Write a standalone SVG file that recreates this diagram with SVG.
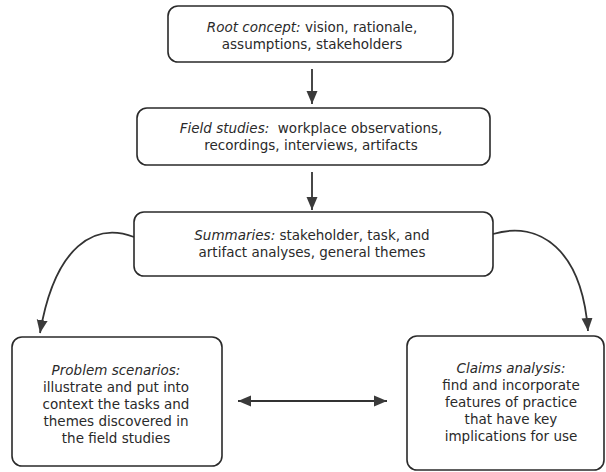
<svg xmlns="http://www.w3.org/2000/svg" width="606" height="472" viewBox="0 0 606 472">
<style>
.box{fill:#fff;stroke:#2a2a2a;stroke-width:1.6}
.t{font-family:"DejaVu Sans","Liberation Sans",sans-serif;font-size:13.5px;fill:#2a2a2a;text-anchor:middle}
.i{font-style:italic}
.c{fill:none;stroke:#333;stroke-width:1.8}
</style>
<defs>
<marker id="ah" viewBox="0 0 13 14" refX="13" refY="7" markerWidth="13" markerHeight="14" markerUnits="userSpaceOnUse" orient="auto-start-reverse">
<path d="M0,1.5 L13,7 L0,12.5 Z" fill="#3a3a3a"/>
</marker>
</defs>
<rect width="606" height="472" fill="#fff"/>
<g id="connectors">
<line class="c" x1="312" y1="69" x2="312" y2="104" marker-end="url(#ah)"/>
<line class="c" x1="312" y1="172" x2="312" y2="210" marker-end="url(#ah)"/>
<path class="c" d="M134,237 C95,222 55,245 40,333" marker-end="url(#ah)"/>
<path class="c" d="M493,234 C540,220 582,250 588,331" marker-end="url(#ah)"/>
<line class="c" x1="238" y1="401" x2="387" y2="401" marker-start="url(#ah)" marker-end="url(#ah)"/>
</g>
<g id="root">
<rect class="box" x="168" y="6" width="285" height="56" rx="10"/>
<text class="t" x="312" y="32"><tspan class="i">Root concept:</tspan> vision, rationale,</text>
<text class="t" x="312" y="49">assumptions, stakeholders</text>
</g>
<g id="field">
<rect class="box" x="137" y="108" width="353" height="57" rx="10"/>
<text class="t" x="311" y="133"><tspan class="i">Field studies:</tspan>&#160; workplace observations,</text>
<text class="t" x="311" y="150">recordings, interviews, artifacts</text>
</g>
<g id="summaries">
<rect class="box" x="134" y="212" width="359" height="64" rx="10"/>
<text class="t" x="312" y="240"><tspan class="i">Summaries:</tspan> stakeholder, task, and</text>
<text class="t" x="312" y="257">artifact analyses, general themes</text>
</g>
<g id="problem">
<rect class="box" x="12" y="337" width="210" height="129" rx="10"/>
<text class="t" x="116" y="375"><tspan class="i">Problem scenarios:</tspan></text>
<text class="t" x="116" y="392">illustrate and put into</text>
<text class="t" x="116" y="409">context the tasks and</text>
<text class="t" x="116" y="426">themes discovered in</text>
<text class="t" x="116" y="443">the field studies</text>
</g>
<g id="claims">
<rect class="box" x="407" y="336" width="197" height="134" rx="10"/>
<text class="t" x="511" y="373"><tspan class="i">Claims analysis:</tspan></text>
<text class="t" x="511" y="390">find and incorporate</text>
<text class="t" x="511" y="407">features of practice</text>
<text class="t" x="511" y="424">that have key</text>
<text class="t" x="511" y="441">implications for use</text>
</g>
</svg>
